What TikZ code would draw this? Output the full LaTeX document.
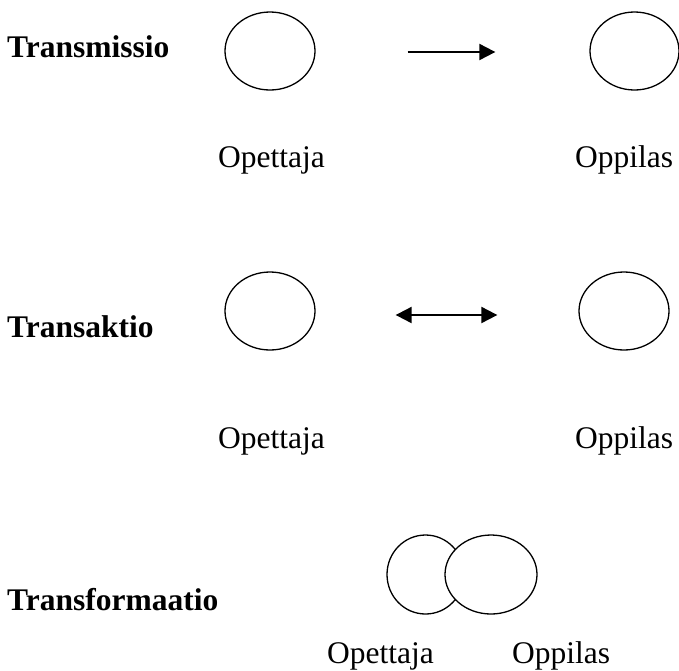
\documentclass[tikz,border=0pt]{standalone}
\usepackage{fontspec}
\setmainfont{Liberation Serif}
\usetikzlibrary{shapes.geometric,arrows.meta}
\begin{document}
\begin{tikzpicture}[x=1pt,y=-1pt,
  person/.style={draw,ellipse,line width=1.3pt,inner sep=0pt,fill=white},
  heading/.style={anchor=base west,inner sep=0pt,font=\fontsize{31.5}{36}\selectfont\bfseries},
  role/.style={anchor=base west,inner sep=0pt,font=\fontsize{31.5}{36}\selectfont},
  flow/.style={line width=2pt,-{Triangle[length=16pt,width=16pt]}},
  twoway/.style={line width=2pt,{Triangle[length=16pt,width=16pt]}-{Triangle[length=16pt,width=16pt]}}]
\useasboundingbox (0,0) rectangle (679,670);

% Transmission: one-way flow from teacher to pupil
\node[heading] (h1) at (7,57) {Transmissio};
\node[person,minimum width=90pt,minimum height=78pt] (t1) at (270,51) {};
\node[person,minimum width=89pt,minimum height=78pt] (s1) at (634.5,51) {};
\draw[flow] ([yshift=-1pt]t1.east) -- ([yshift=-1pt]s1.west)
  [shorten <=92pt, shorten >=94pt];
\node[role] (lt1) at (218,167) {Opettaja};
\node[role] (ls1) at (575,167) {Oppilas};

% Transaction: two-way exchange
\node[heading] (h2) at (7,337) {Transaktio};
\node[person,minimum width=90pt,minimum height=78pt] (t2) at (270,311) {};
\node[person,minimum width=90pt,minimum height=78pt] (s2) at (624,311) {};
\draw[twoway,shorten <=80pt,shorten >=81pt] ([yshift=-4pt]t2.east) -- ([yshift=-4pt]s2.west);
\node[role] (lt2) at (218,448) {Opettaja};
\node[role] (ls2) at (575,448) {Oppilas};

% Transformation: overlapping participants
\node[heading] (h3) at (7,610) {Transformaatio};
\node[person,minimum width=77pt,minimum height=79pt] (t3) at (425.5,574.5) {};
\node[person,minimum width=92pt,minimum height=79pt] (s3) at (491,574.5) {};
\node[role] (lt3) at (327,663) {Opettaja};
\node[role] (ls3) at (512,663) {Oppilas};
\end{tikzpicture}
\end{document}
